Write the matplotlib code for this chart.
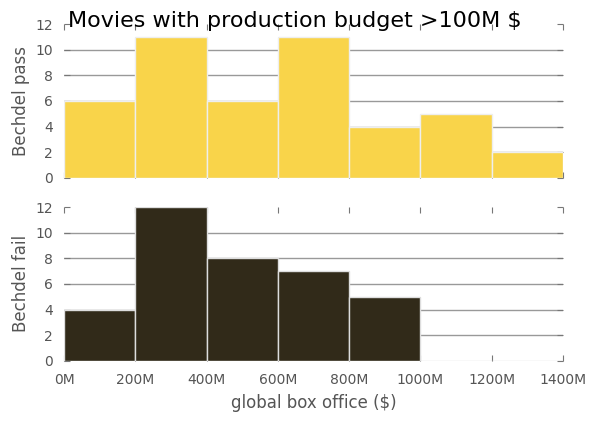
import matplotlib.pyplot as plt
from matplotlib.ticker import FuncFormatter

# Histogram bins (global box office, $)
bin_edges = [0, 200e6, 400e6, 600e6, 800e6, 1000e6, 1200e6, 1400e6]
pass_counts = [6, 11, 6, 11, 4, 5, 2]
fail_counts = [4, 12, 8, 7, 5, 0, 0]

pass_color = '#f9d44a'
fail_color = '#312a19'
text_gray = '#555555'


def style_axis(ax):
    for s in ax.spines.values():
        s.set_visible(False)
    ax.set_xlim(0, 1400e6)
    ax.set_ylim(0, 12)
    ax.set_yticks(range(0, 13, 2))
    ax.set_xticks(bin_edges)
    ax.tick_params(direction='in', length=4, color='#777777', labelcolor=text_gray,
                   labelsize=10, top=True, right=True)
    ax.tick_params(axis='y', pad=8)
    ax.tick_params(axis='x', pad=9)
    ax.grid(axis='y', color='#999999', linewidth=1)
    ax.set_axisbelow(True)
    lines = ax.yaxis.get_gridlines()
    lines[0].set_visible(False)
    lines[-1].set_visible(False)
    ax.xaxis.set_major_formatter(FuncFormatter(lambda v, p: f"{int(v / 1e6)}M"))


fig, (ax1, ax2) = plt.subplots(2, 1, figsize=(5.95, 4.22), dpi=100, sharex=True)
fig.subplots_adjust(left=0.108, right=0.946, top=0.943, bottom=0.145, hspace=0.19)

widths = [bin_edges[i + 1] - bin_edges[i] for i in range(len(pass_counts))]
ax1.bar(bin_edges[:-1], pass_counts, width=widths, align='edge', color=pass_color,
        edgecolor='#eeeeee', linewidth=1)
ax2.bar(bin_edges[:-1], fail_counts, width=widths, align='edge', color=fail_color,
        edgecolor='#dddddd', linewidth=1)

for ax in (ax1, ax2):
    style_axis(ax)
ax1.tick_params(labelbottom=False)

ax1.set_ylabel('Bechdel pass', fontsize=12, color=text_gray, labelpad=4)
ax2.set_ylabel('Bechdel fail', fontsize=12, color=text_gray, labelpad=4)
ax2.set_xlabel('global box office ($)', fontsize=12, color=text_gray, labelpad=5)

fig.suptitle('Movies with production budget >100M $', fontsize=16, y=0.975, x=0.495)

fig.savefig('out.png')
